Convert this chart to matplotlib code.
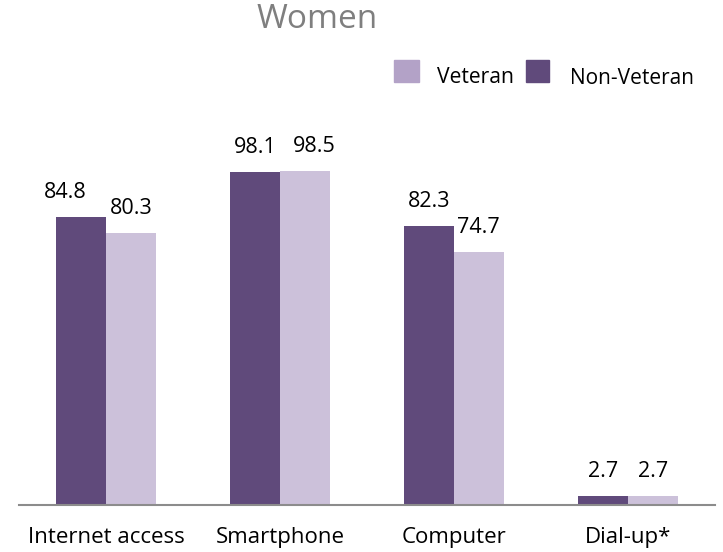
import matplotlib
matplotlib.use("Agg")
import matplotlib.pyplot as plt
from matplotlib.patches import Rectangle
import numpy as np

plt.rcParams['font.family'] = ['Open Sans', 'DejaVu Sans']

categories = ["Internet access", "Smartphone", "Computer", "Dial-up*"]
non_veteran = [84.8, 98.1, 82.3, 2.7]
veteran = [80.3, 98.5, 74.7, 2.7]
title = "Women"

DARK = "#604A7B"
LIGHT = "#CCC1DA"
LIGHT_SW = "#B3A2C7"

W, H = 723, 552
fig = plt.figure(figsize=(W/100, H/100), dpi=100)
ax = fig.add_axes([19/W, (H-505)/H, (715-19)/W, 373/H])

x = np.arange(len(categories))
bw = 0.285
ax.bar(x - bw/2, non_veteran, bw, color=DARK)
ax.bar(x + bw/2, veteran, bw, color=LIGHT)

ax.set_xlim(-0.5, 3.5)
ax.set_ylim(0, 110)
for s in ["top", "right", "left"]:
    ax.spines[s].set_visible(False)
ax.spines["bottom"].set_color("#8c8c8c")
ax.spines["bottom"].set_linewidth(1.5)
ax.set_yticks([])
ax.set_xticks(x)
ax.set_xticklabels(categories, fontsize=16)
ax.tick_params(axis='x', length=0, pad=16)

# label x-offsets (px) as in reference
off_nv = [-16, 0, 0, 0]
off_v = [0, 9, 0, 0]
for i in range(len(categories)):
    ax.annotate(f"{non_veteran[i]:.1f}", (x[i]-bw/2, non_veteran[i]),
                xytext=(off_nv[i]*0.72, 19*0.72), textcoords="offset points",
                ha="center", va="baseline", fontsize=15.5)
    ax.annotate(f"{veteran[i]:.1f}", (x[i]+bw/2, veteran[i]),
                xytext=(off_v[i]*0.72, 19*0.72), textcoords="offset points",
                ha="center", va="baseline", fontsize=15.5)

fig.text(317.5/W, (H-28)/H, title, ha="center", va="baseline",
         fontsize=24, color="#7f7f7f")

# legend
fig.patches.append(Rectangle((394/W, (H-82)/H), 25/W, 22/H,
                             transform=fig.transFigure, color=LIGHT_SW))
fig.patches.append(Rectangle((526/W, (H-82)/H), 23/W, 22/H,
                             transform=fig.transFigure, color=DARK))
fig.text(437/W, (H-82.5)/H, "Veteran", ha="left", va="baseline", fontsize=15.2)
fig.text(570/W, (H-84.5)/H, "Non-Veteran", ha="left", va="baseline", fontsize=15)

fig.savefig("out.png", dpi=100)
